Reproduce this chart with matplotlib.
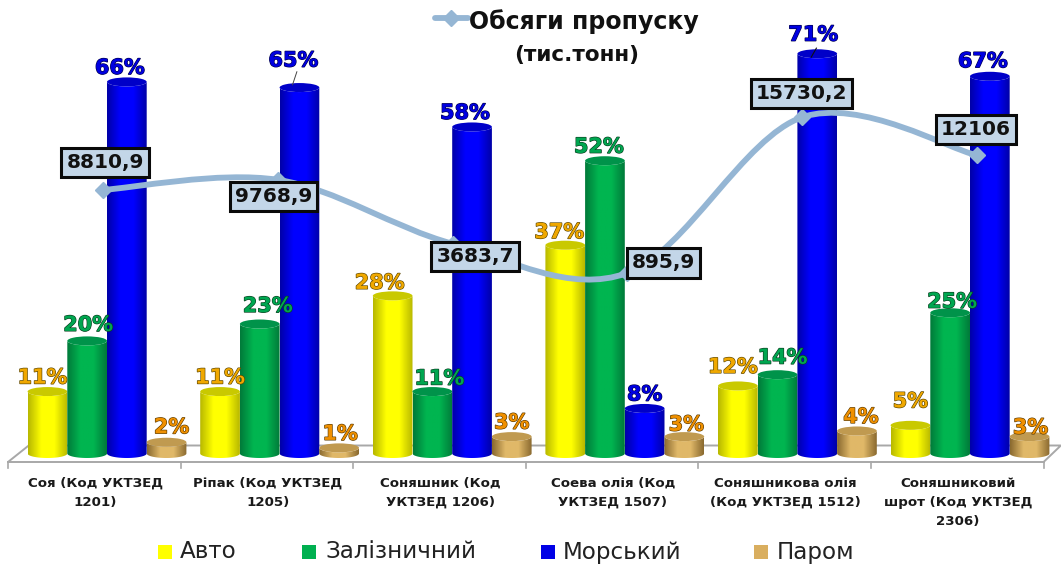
#!/usr/bin/env python3

import numpy as np
import matplotlib
matplotlib.use("Agg")
import matplotlib.pyplot as plt
import matplotlib.patheffects as pe
from matplotlib.colors import LinearSegmentedColormap
from matplotlib.patches import Ellipse, PathPatch, Polygon
from matplotlib.path import Path

# Data
categories = ["Соя (Код УКТЗЕД\n1201)", "Ріпак (Код УКТЗЕД\n1205)", "Соняшник (Код\nУКТЗЕД 1206)",
              "Соева олія (Код\nУКТЗЕД 1507)", "Соняшникова олія\n(Код УКТЗЕД 1512)",
              "Соняшниковий\nшрот (Код УКТЗЕД\n2306)"]
series_names = ["Авто", "Залізничний", "Морський", "Паром"]
auto = [11, 11, 28, 37, 12, 5]
rail = [20, 23, 11, 52, 14, 25]
sea = [66, 65, 58, 8, 71, 67]
ferry = [2, 1, 3, 3, 4, 3]
volumes = [8810.9, 9768.9, 3683.7, 895.9, 15730.2, 12106]
volume_labels = ["8810,9", "9768,9", "3683,7", "895,9", "15730,2", "12106"]

W, H = 1061, 566
BASE_PX = 453.5
PCT_PX = 5.63      # pixels per percent
GROUP_PX = 172.6
X0_PX = 107
BAR_W = 0.23
PX = 0.72          # points per pixel

grey = "#a8a8a8"
line_col = "#95b6d4"
box_col = "#c3d6e8"

# colours: edge, centre, lid, label, label outline
styles = [("#b8b800", "#ffff00", "#c9c900", "#f0a800", "#5a4500"),
          ("#007a3a", "#00b550", "#00934a", "#00a650", "#0b3d1f"),
          ("#0000a8", "#0000ff", "#0000c8", "#0000e0", "#00004a"),
          ("#8a6a30", "#e0b868", "#c09a50", "#f09000", "#5a3a00")]

# percent label offsets from top of the bar, pixels, per group: auto, rail, sea, ferry
label_dx = [[-5, 1, -7, 5], [0, 8, -6, 1], [-13, 7, -7, 0],
            [-6, -6, 0, 2], [-5, 5, -4, 4], [0, 2, -7, 1]]
label_dy = [[14, 16, 14, 15], [14, 18, 27, 14], [13, 13, 14, 14],
            [13, 14, 14, 12], [19, 17, 19, 14], [24, 11, 15, 9]]

fig = plt.figure(figsize=(W / 100, H / 100), dpi=100)
ax = fig.add_axes([0, 0, 1, 1])
xlim = (-X0_PX / GROUP_PX, (W - X0_PX) / GROUP_PX)
ylim = ((BASE_PX - H) / PCT_PX, BASE_PX / PCT_PX)
ax.axis("off")

# floor of the 3d chart
floor_y = -8.5 / PCT_PX
back_y = 8 / PCT_PX
x_left = -0.5736
ax.add_patch(Polygon([[x_left, floor_y], [x_left + 0.12, back_y], [x_left + 6.1, back_y], [x_left + 6, floor_y]],
                     closed=False, fc="white", ec=grey, lw=1.4, zorder=1))
ax.plot([x_left, x_left + 6], [floor_y, floor_y], color=grey, lw=1.4, zorder=1)
for i in range(7):
    ax.plot([x_left + i] * 2, [floor_y, floor_y - 6 / PCT_PX], color=grey, lw=1.2, zorder=1)


def draw_cylinder(xc, val, style, z):
    edge, centre, lid = style[:3]
    cmap = LinearSegmentedColormap.from_list("c", [edge, centre, centre, edge])
    grad = np.linspace(0, 1, 64).reshape(1, -1)
    half = BAR_W / 2
    e_h = 4.5 / PCT_PX
    t = np.linspace(np.pi, 2 * np.pi, 40)
    low = np.column_stack([xc + half * np.cos(t), e_h * np.sin(t)])
    high = np.column_stack([xc + half * np.cos(t[::-1]), val + e_h * np.sin(t)])
    clip = Polygon(np.vstack([low, high]), closed=True, transform=ax.transData)
    im = ax.imshow(grad, extent=(xc - half, xc + half, -e_h, val + e_h), cmap=cmap, aspect="auto",
                   origin="lower", zorder=z)
    im.set_clip_path(clip)
    ax.add_patch(Ellipse((xc, val), BAR_W, 2 * e_h, fc=lid, ec="none", zorder=z + 0.1))


all_series = [auto, rail, sea, ferry]
for g in range(len(categories)):
    for s, values in enumerate(all_series):
        xc = g + (s - 1.5) * BAR_W
        draw_cylinder(xc, values[g], styles[s], 2 + s * 0.2)
        ax.annotate(f"{values[g]}%", (xc, values[g]), xytext=(label_dx[g][s] * PX, label_dy[g][s] * PX),
                    textcoords="offset points", ha="center", va="center", fontsize=15, fontweight="bold",
                    color=styles[s][3], zorder=8,
                    path_effects=[pe.withStroke(linewidth=0.9, foreground=styles[s][4])])
    ax.text(g - 12 / GROUP_PX, -23.5 / PCT_PX, categories[g], ha="center", va="top", fontsize=9.6,
            fontweight="bold", color="#1a1a1a", linespacing=1.6, zorder=8)

# leader lines
ax.plot([1.115 - 0.04, 1.115 - 0.015], [65 + 0.5, 65 + 2.8], color="#444444", lw=0.7, zorder=8)
ax.plot([4.115 - 0.035, 4.115 - 0.005], [71 - 0.6, 71 + 1], color="#111111", lw=0.8, zorder=8)

ax.set_xlim(xlim)
ax.set_ylim(ylim)

# volume line on its own scales
ax2 = fig.add_axes([0, 0, 1, 1], facecolor="none")
ax2.axis("off")
ax2.set_xlim(-103 / 174.8, (W - 103) / 174.8)
ax2.set_ylim((282.4 - H) / 0.0105, 282.4 / 0.0105)
xs = np.arange(len(volumes), dtype=float)
ys = np.array(volumes)
verts = [(xs[0], ys[0])]
codes = [Path.MOVETO]
for i in range(len(xs) - 1):
    p0 = (xs[max(i - 1, 0)], ys[max(i - 1, 0)])
    p1 = (xs[i], ys[i])
    p2 = (xs[i + 1], ys[i + 1])
    p3 = (xs[min(i + 2, len(xs) - 1)], ys[min(i + 2, len(xs) - 1)])
    c1 = (p1[0] + (p2[0] - p0[0]) / 6, p1[1] + (p2[1] - p0[1]) / 6)
    c2 = (p2[0] - (p3[0] - p1[0]) / 6, p2[1] - (p3[1] - p1[1]) / 6)
    verts += [c1, c2, p2]
    codes += [Path.CURVE4] * 3
ax2.add_patch(PathPatch(Path(verts, codes), fc="none", ec=line_col, lw=4.2, capstyle="round", zorder=5))
ax2.plot(xs, ys, ls="none", marker="D", ms=8, color=line_col, zorder=5)

box_dx = [2, -4.5, 22.5, 36, -0.5, -1]
box_dy = [27, -17, -13, 10, 24, 26]
for i, lab in enumerate(volume_labels):
    ax2.annotate(lab, (xs[i], ys[i]), xytext=(box_dx[i] * PX, box_dy[i] * PX), textcoords="offset points",
                 ha="center", va="center", fontsize=14.5, fontweight="bold", color="#111111", zorder=9,
                 bbox=dict(boxstyle="square,pad=0.25", fc=box_col, ec="#0a0a0a", lw=2.2))

# title with the line key
tr = ax2.transAxes
fig.text(584 / W, 1 - 22 / H, "Обсяги пропуску", ha="center", va="center", fontsize=17, fontweight="bold", color="#111111")
fig.text(577 / W, 1 - 55 / H, "(тис.тонн)", ha="center", va="center", fontsize=15.5, fontweight="bold", color="#111111")
ax2.plot([435 / W, 468 / W], [1 - 18 / H] * 2, transform=tr, color=line_col, lw=4.2, solid_capstyle="round", zorder=9)
ax2.plot([451 / W], [1 - 18 / H], transform=tr, marker="D", ms=8, color=line_col, zorder=9)

# legend along the bottom
leg_x = [165, 309, 548, 760.5]
text_x = [180, 325, 563, 777]
leg_cols = ["#ffff00", "#00b050", "#0000e6", "#d9ae5f"]
for n, name in enumerate(series_names):
    ax2.plot([leg_x[n] / W], [1 - 552 / H], transform=tr, marker="s", ms=10, color=leg_cols[n], mew=0, zorder=9)
    fig.text(text_x[n] / W, 1 - 552 / H, name, ha="left", va="center", fontsize=16.6, color="#222222")

fig.savefig("out.png", dpi=100, facecolor="white")
